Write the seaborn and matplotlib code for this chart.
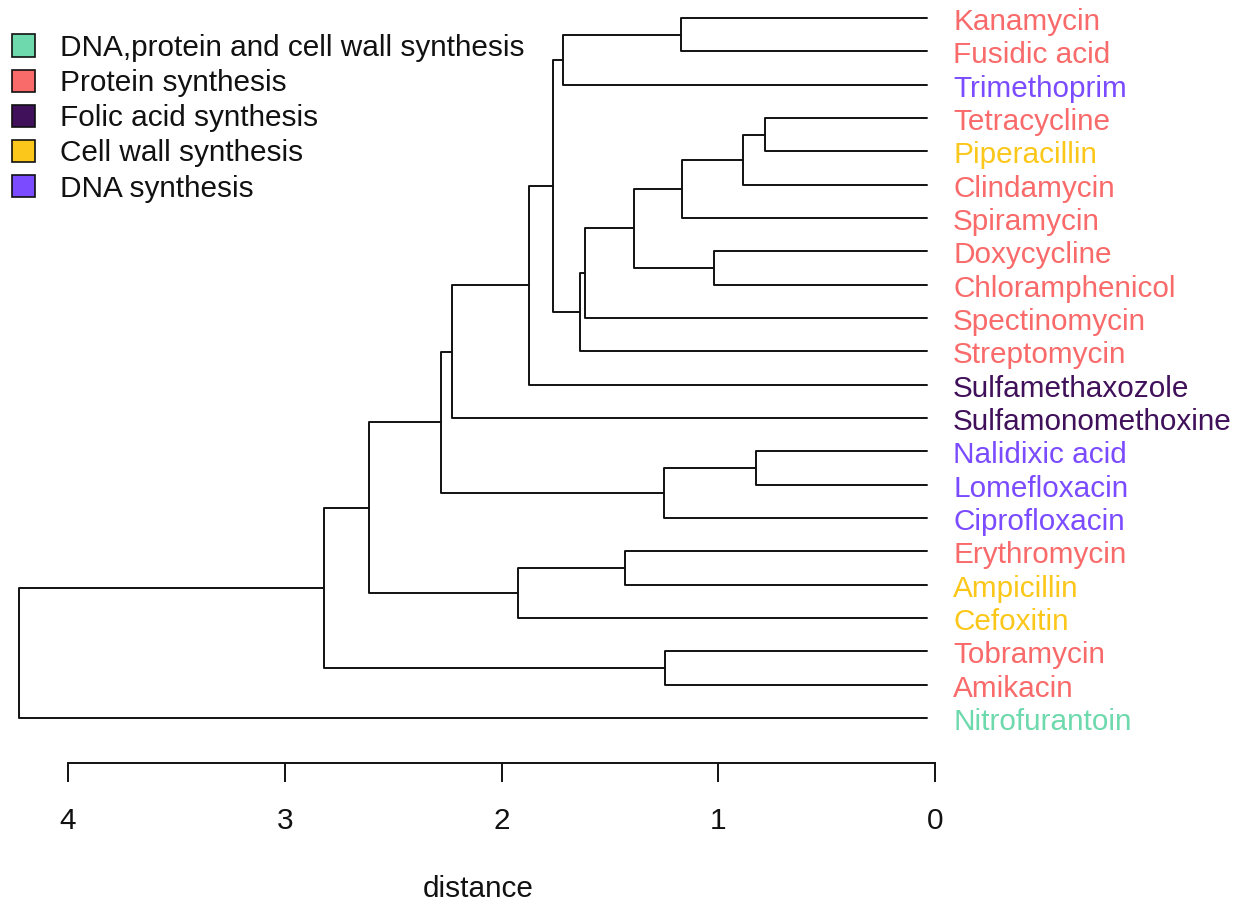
import numpy as np
import pandas as pd
import matplotlib
matplotlib.use("Agg")
import matplotlib.pyplot as plt
from matplotlib.patches import Patch
import seaborn as sns

# Antibiotics in dendrogram order (top to bottom)
drugs = [
    "Kanamycin", "Fusidic acid", "Trimethoprim", "Tetracycline", "Piperacillin",
    "Clindamycin", "Spiramycin", "Doxycycline", "Chloramphenicol", "Spectinomycin",
    "Streptomycin", "Sulfamethaxozole", "Sulfamonomethoxine", "Nalidixic acid",
    "Lomefloxacin", "Ciprofloxacin", "Erythromycin", "Ampicillin", "Cefoxitin",
    "Tobramycin", "Amikacin", "Nitrofurantoin",
]

# Mode of action for each antibiotic
drug_class = [
    "Protein synthesis", "Protein synthesis", "DNA synthesis", "Protein synthesis",
    "Cell wall synthesis", "Protein synthesis", "Protein synthesis", "Protein synthesis",
    "Protein synthesis", "Protein synthesis", "Protein synthesis", "Folic acid synthesis",
    "Folic acid synthesis", "DNA synthesis", "DNA synthesis", "DNA synthesis",
    "Protein synthesis", "Cell wall synthesis", "Cell wall synthesis",
    "Protein synthesis", "Protein synthesis", "DNA,protein and cell wall synthesis",
]

class_names = [
    "DNA,protein and cell wall synthesis", "Protein synthesis",
    "Folic acid synthesis", "Cell wall synthesis", "DNA synthesis",
]
class_colors = ["#6DD9AC", "#F96A6A", "#40105A", "#FCC71B", "#7B4CFF"]

# Agglomeration steps (linkage style): indices < n are leaves,
# index n + k refers to the cluster formed at step k.
merge_left = [3, 13, 22, 7, 24, 0, 19, 23, 26, 16, 30, 32, 27, 34, 35, 31, 36, 38, 39, 40, 41]
merge_right = [4, 14, 5, 8, 6, 1, 20, 15, 25, 17, 9, 10, 2, 33, 11, 18, 12, 29, 37, 28, 21]
merge_height = [0.784, 0.826, 0.886, 1.020, 1.167, 1.172, 1.246, 1.250, 1.389, 1.430,
                1.615, 1.638, 1.716, 1.762, 1.873, 1.924, 2.228, 2.279, 2.611, 2.819, 4.226]

n = len(drugs)
leaf_end = 0.037  # leaf branches stop just short of zero

# node positions: (height, vertical position)
node_h = {i: leaf_end for i in range(n)}
node_y = {i: float(i) for i in range(n)}
rows = []
for k, (a, b, h) in enumerate(zip(merge_left, merge_right, merge_height)):
    idx = n + k
    pts = [(node_h[a], node_y[a]), (h, node_y[a]), (h, node_y[b]), (node_h[b], node_y[b])]
    for order, (x, y) in enumerate(pts):
        rows.append({"link": idx, "order": order, "x": x, "y": y})
    node_h[idx] = h
    node_y[idx] = (node_y[a] + node_y[b]) / 2.0
segments = pd.DataFrame(rows)

sns.set_theme(style="white")
plt.rcParams["font.family"] = ["Liberation Sans", "DejaVu Sans"]

FS = 21.4
W, H = 1243, 905
fig = plt.figure(figsize=(W / 100, H / 100), dpi=100)
bottom_px = 763
ax = fig.add_axes([0, (H - bottom_px) / H, 1, bottom_px / H])

sns.lineplot(data=segments, x="x", y="y", units="link", estimator=None, sort=False,
             color="#111111", linewidth=1.4, ax=ax, legend=False)

# horizontal scale: 0 at x=935px, 4 at x=68px
px_per_unit = (935 - 68) / 4.0
ax.set_xlim(935 / px_per_unit, (935 - W) / px_per_unit)
row_px = (718 - 18) / (n - 1)
ax.set_ylim((bottom_px - 18) / row_px, -18 / row_px)

color_map = dict(zip(class_names, class_colors))
for i, (name, cls) in enumerate(zip(drugs, drug_class)):
    ax.annotate(name, xy=(0, i), xytext=(13, -8.6), textcoords="offset points",
                ha="left", va="baseline", fontsize=FS, color=color_map[cls],
                annotation_clip=False)

for side in ["top", "right", "left"]:
    ax.spines[side].set_visible(False)
ax.spines["bottom"].set_bounds(0, 4)
ax.spines["bottom"].set_linewidth(1.4)
ax.spines["bottom"].set_color("#111111")
ax.set_xticks([4, 3, 2, 1, 0])
ax.set_xticklabels(["4", "3", "2", "1", "0"])
ax.set_yticks([])
ax.tick_params(axis="x", direction="out", length=13.5, width=1.4, color="#111111",
               pad=18, labelsize=FS, labelcolor="#111111", bottom=True)
ax.set_xlabel("distance", fontsize=FS, color="#111111")
ax.xaxis.set_label_coords(478 / W, (bottom_px - 875) / bottom_px)
ax.set_ylabel("")
ax.patch.set_alpha(0)

handles = [Patch(facecolor=c, edgecolor="#111111", linewidth=1.2) for c in class_colors]
fig.legend(handles, class_names, loc="upper left",
           bbox_to_anchor=(12 / W, 1 - 34 / H), frameon=False, fontsize=FS,
           handlelength=0.78, handleheight=0.78, handletextpad=0.85,
           labelspacing=0.24, borderpad=0, borderaxespad=0, labelcolor="#111111")

fig.savefig("out.png", dpi=100)
